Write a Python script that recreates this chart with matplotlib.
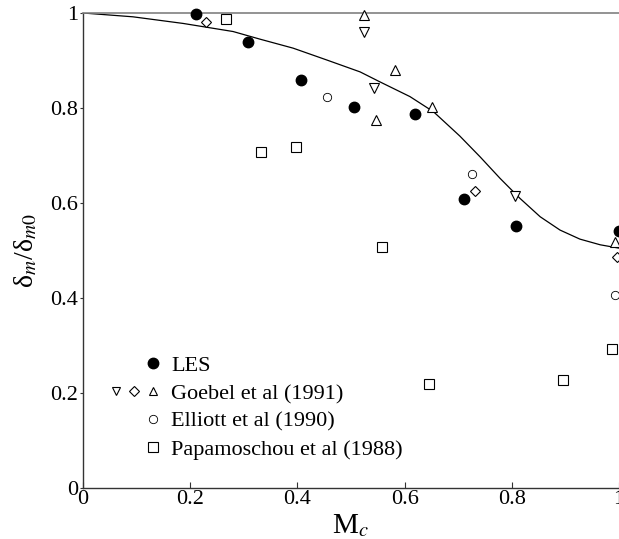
import matplotlib
matplotlib.use("Agg")
import matplotlib.pyplot as plt
from matplotlib.lines import Line2D
from matplotlib.legend_handler import HandlerTuple
from matplotlib.ticker import FixedLocator, FuncFormatter

plt.rcParams.update({
    'font.family': 'serif',
    'font.serif': ['Liberation Serif', 'DejaVu Serif'],
    'mathtext.fontset': 'stix',
    'font.size': 16,
})

# LES
les_mc = [0.210, 0.308, 0.407, 0.506, 0.619, 0.711, 0.808, 1.000]
les_d = [0.998, 0.938, 0.860, 0.802, 0.787, 0.608, 0.551, 0.542]

# Goebel et al (1991), three symbol sets
goebel_up_mc = [0.525, 0.583, 0.547, 0.651, 0.993]
goebel_up_d = [0.996, 0.880, 0.775, 0.802, 0.517]
goebel_down_mc = [0.525, 0.543, 0.806]
goebel_down_d = [0.960, 0.843, 0.615]
goebel_dia_mc = [0.230, 0.731, 0.996]
goebel_dia_d = [0.982, 0.625, 0.486]

# Elliott et al (1990)
elliott_mc = [0.455, 0.725, 0.993]
elliott_d = [0.823, 0.662, 0.406]

# Papamoschou et al (1988)
papa_mc = [0.266, 0.333, 0.398, 0.558, 0.646, 0.896, 0.987]
papa_d = [0.987, 0.707, 0.718, 0.507, 0.220, 0.227, 0.293]

# fitted curve
curve_mc = [0.0, 0.093, 0.187, 0.280, 0.330, 0.392, 0.455, 0.517, 0.554, 0.610,
            0.654, 0.703, 0.741, 0.778, 0.815, 0.853, 0.890, 0.927, 0.965, 1.0]
curve_d = [1.0, 0.992, 0.978, 0.961, 0.945, 0.926, 0.901, 0.876, 0.855, 0.824,
           0.792, 0.741, 0.697, 0.652, 0.610, 0.571, 0.543, 0.524, 0.512, 0.505]

ticks = [0, 0.2, 0.4, 0.6, 0.8, 1.0]

fig = plt.figure(figsize=(6.19, 5.39), dpi=100)
ax = fig.add_axes([83 / 619, 51 / 539, 536 / 619, 475 / 539])

ax.plot(curve_mc, curve_d, color='black', lw=0.9, zorder=2)

ms = 7.2
mew = 0.8
ax.plot(les_mc, les_d, 'o', color='black', ms=7.5, zorder=3, clip_on=False)
ax.plot(goebel_up_mc, goebel_up_d, '^', mfc='white', mec='black', ms=ms, mew=mew, zorder=3, clip_on=False)
ax.plot(goebel_down_mc, goebel_down_d, 'v', mfc='white', mec='black', ms=ms, mew=mew, zorder=3, clip_on=False)
ax.plot(goebel_dia_mc, goebel_dia_d, 'D', mfc='white', mec='black', ms=5.5, mew=mew, zorder=3, clip_on=False)
ax.plot(elliott_mc, elliott_d, 'o', mfc='white', mec='black', ms=6, mew=0.6, zorder=3, clip_on=False)
ax.plot(papa_mc, papa_d, 's', mfc='white', mec='black', ms=ms, mew=mew, zorder=3, clip_on=False)

ax.set_xlim(0, 1)
ax.set_ylim(0, 1)

fmt = FuncFormatter(lambda v, p: '0' if v == 0 else ('1' if v == 1 else f'{v:.1f}'))
ax.xaxis.set_major_locator(FixedLocator(ticks))
ax.yaxis.set_major_locator(FixedLocator(ticks))
ax.xaxis.set_major_formatter(fmt)
ax.yaxis.set_major_formatter(fmt)
ax.tick_params(axis='x', direction='in', length=4.5, width=0.8, color='#333333', pad=1.5, labelsize=16)
ax.tick_params(axis='y', direction='out', length=2.5, width=0.8, color='#333333', pad=1, labelsize=16)

for side in ['left', 'bottom']:
    ax.spines[side].set_color('#333333')
    ax.spines[side].set_linewidth(1.0)
ax.spines['top'].set_color('#808080')
ax.spines['top'].set_linewidth(1.2)
ax.spines['right'].set_visible(False)

ax.set_xlabel('M$_c$', fontsize=21, labelpad=2)
ax.set_ylabel('δ$_m$/δ$_{m0}$', fontsize=20, labelpad=8)

blank = Line2D([], [], linestyle='none')
h_les = Line2D([], [], linestyle='none', marker='o', color='black', ms=7.5)
h_up = Line2D([], [], linestyle='none', marker='^', mfc='white', mec='black', ms=6, mew=mew)
h_down = Line2D([], [], linestyle='none', marker='v', mfc='white', mec='black', ms=6, mew=mew)
h_dia = Line2D([], [], linestyle='none', marker='D', mfc='white', mec='black', ms=5, mew=mew)
h_ell = Line2D([], [], linestyle='none', marker='o', mfc='white', mec='black', ms=6, mew=0.6)
h_pap = Line2D([], [], linestyle='none', marker='s', mfc='white', mec='black', ms=6.5, mew=mew)

ax.legend([(blank, blank, h_les), (h_down, h_dia, h_up), (blank, blank, h_ell), (blank, blank, h_pap)],
          ['LES', 'Goebel et al (1991)', 'Elliott et al (1990)', 'Papamoschou et al (1988)'],
          handler_map={tuple: HandlerTuple(ndivide=3, pad=0)},
          loc='center left', bbox_to_anchor=(0.023, 0.169), frameon=False,
          borderpad=0, handlelength=2.5, handletextpad=0.4, labelspacing=0.33,
          fontsize=16)

plt.savefig('out.png', dpi=100)
